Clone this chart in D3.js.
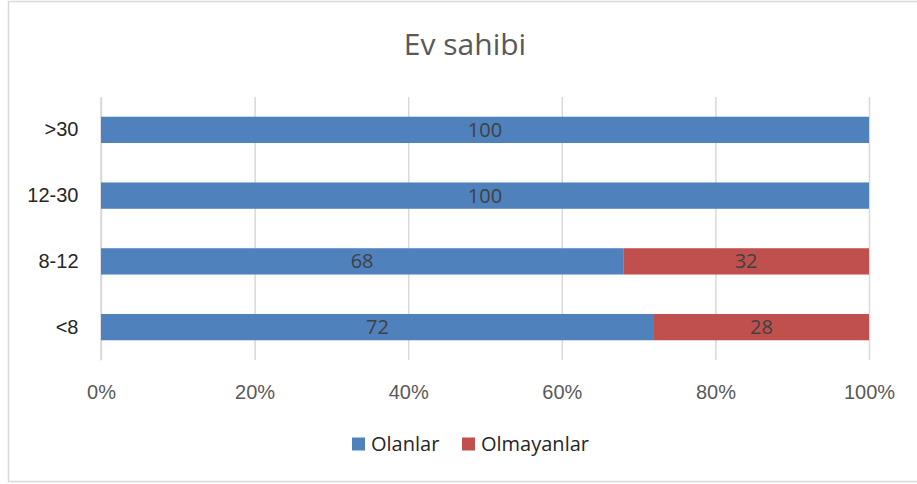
<!DOCTYPE html>
<html>
<head>
<meta charset="utf-8">
<script src="https://cdn.jsdelivr.net/npm/d3@7"></script>
<style>
  body { margin: 0; background: #fff; }
  svg { display: block; font-family: "Open Sans", "Liberation Sans", sans-serif; }
</style>
</head>
<body>
<div id="chart"></div>
<script>
// Chart data
const categories = [">30", "12-30", "8-12", "<8"];
const olanlar = [100, 100, 68, 72];
const olmayanlar = [0, 0, 32, 28];
const seriesNames = ["Olanlar", "Olmayanlar"];
const seriesColours = ["#4F81BD", "#C0504D"];
const tickValues = [0, 20, 40, 60, 80, 100];

function drawChart() {
  const width = 917;
  const height = 484;
  const margin = { top: 97, right: 48, bottom: 121, left: 101 };

  const svg = d3
    .select("#chart")
    .append("svg")
    .attr("width", width)
    .attr("height", height);

  // Chart border
  svg
    .append("rect")
    .attr("x", 8.5)
    .attr("y", 1.5)
    .attr("width", width)
    .attr("height", 480)
    .attr("fill", "none")
    .attr("stroke", "#d9d9d9")
    .attr("stroke-width", 1.5);

  // Title
  svg
    .append("text")
    .attr("x", 465)
    .attr("y", 55)
    .attr("text-anchor", "middle")
    .style("font-size", "30px")
    .style("fill", "#595959")
    .text("Ev sahibi");

  // Scales
  const xScale = d3
    .scaleLinear()
    .domain([0, 100])
    .range([margin.left, width - margin.right]);

  const yScale = d3
    .scaleBand()
    .domain(categories)
    .range([margin.top, height - margin.bottom - 3])
    .paddingInner(0.6)
    .paddingOuter(0.3);

  const plotBottom = height - margin.bottom - 3;

  // Gridlines + tick labels
  const xAxis = d3
    .axisBottom(xScale)
    .tickValues(tickValues)
    .tickSize(plotBottom - margin.top)
    .tickFormat((d) => d + "%");

  const gx = svg
    .append("g")
    .attr("transform", `translate(0, ${margin.top})`)
    .call(xAxis);
  gx.select(".domain").remove();
  gx.selectAll(".tick line")
    .attr("stroke", "#d9d9d9")
    .attr("stroke-width", 1.5);
  gx.selectAll(".tick text")
    .attr("y", plotBottom - margin.top + 32)
    .attr("dy", "0.35em")
    .style("font-size", "20px")
    .style("fill", "#595959");

  // Category axis
  const yAxis = d3.axisLeft(yScale).tickSize(0).tickPadding(22);
  const gy = svg
    .append("g")
    .attr("transform", `translate(${margin.left - 0.5}, 0)`)
    .call(yAxis);
  gy.select(".domain")
    .attr("stroke", "#d9d9d9")
    .attr("stroke-width", 1.5);
  gy.selectAll(".tick text")
    .style("font-size", "20px")
    .style("fill", "#262626");

  // Stacked data
  const rows = categories.map((c, i) => ({
    category: c,
    Olanlar: olanlar[i],
    Olmayanlar: olmayanlar[i],
  }));
  const stacked = d3.stack().keys(seriesNames)(rows);

  const layers = svg
    .selectAll(".layer")
    .data(stacked)
    .enter()
    .append("g")
    .attr("class", "layer")
    .attr("fill", (d, i) => seriesColours[i]);

  layers
    .selectAll("rect")
    .data((d) => d.filter((p) => p[1] - p[0] > 0))
    .enter()
    .append("rect")
    .attr("x", (d) => xScale(d[0]))
    .attr("y", (d) => yScale(d.data.category))
    .attr("width", (d) => xScale(d[1]) - xScale(d[0]))
    .attr("height", yScale.bandwidth());

  // Data labels
  layers
    .selectAll("text")
    .data((d) => d.filter((p) => p[1] - p[0] > 0))
    .enter()
    .append("text")
    .attr("x", (d) => (xScale(d[0]) + xScale(d[1])) / 2)
    .attr("y", (d) => yScale(d.data.category) + yScale.bandwidth() / 2)
    .attr("dy", "0.35em")
    .attr("text-anchor", "middle")
    .style("font-size", "20px")
    .style("fill", "#404040")
    .text((d) => d[1] - d[0]);

  // Legend
  const legendX = [352, 462];
  const legend = svg
    .selectAll(".legend")
    .data(seriesNames)
    .enter()
    .append("g")
    .attr("class", "legend")
    .attr("transform", (d, i) => `translate(${legendX[i]}, 444)`);

  legend
    .append("rect")
    .attr("x", 0)
    .attr("y", -6.5)
    .attr("width", 13)
    .attr("height", 13)
    .attr("fill", (d, i) => seriesColours[i]);

  legend
    .append("text")
    .attr("x", 19)
    .attr("dy", "0.35em")
    .style("font-size", "20px")
    .style("fill", "#262626")
    .text((d) => d);
}

drawChart();
</script>
</body>
</html>
